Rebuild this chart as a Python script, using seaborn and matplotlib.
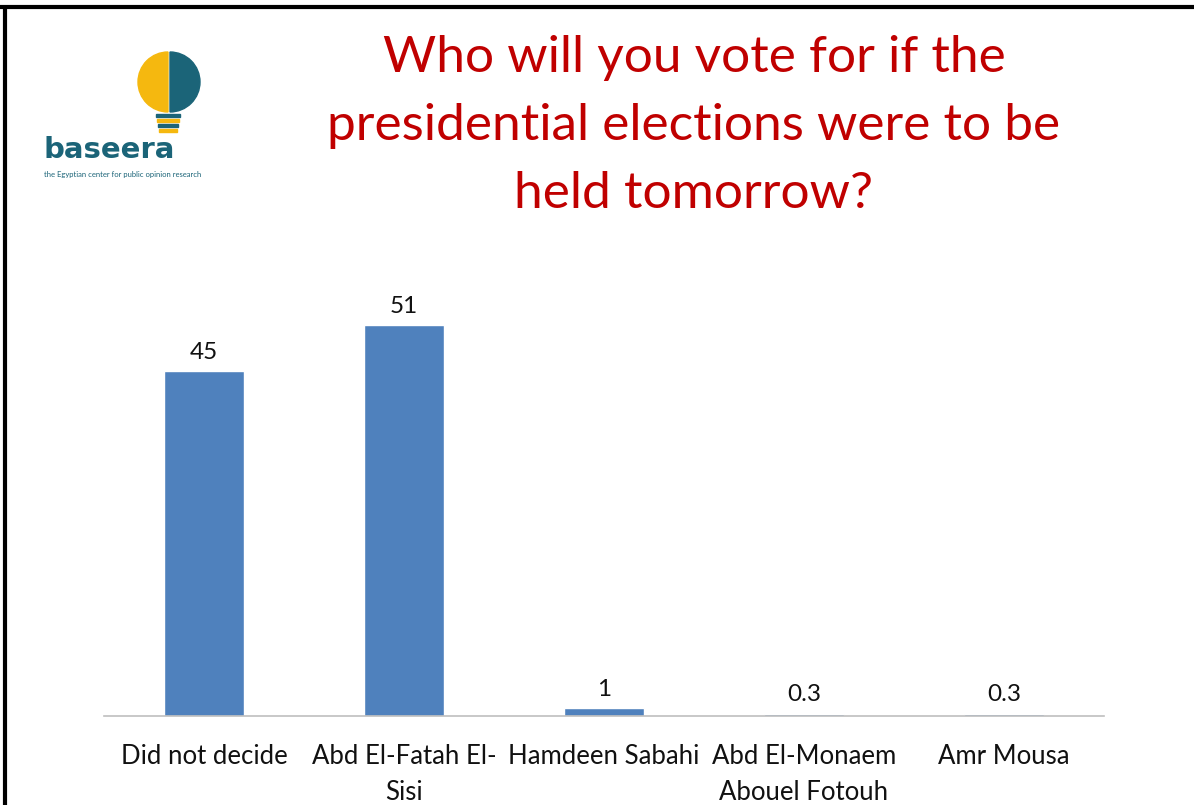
import matplotlib
matplotlib.use('Agg')
import matplotlib.pyplot as plt
import seaborn as sns
import pandas as pd
from matplotlib.patches import Wedge, Rectangle

# dados do gráfico
candidates = ['Did not decide', 'Abd El-Fatah El-\nSisi', 'Hamdeen Sabahi',
              'Abd El-Monaem\nAbouel Fotouh', 'Amr Mousa']
votes = [45, 51, 1, 0.3, 0.3]
value_labels = ['45', '51', '1', '0.3', '0.3']
title_lines = ['Who will you vote for if the',
               'presidential elections were to be',
               'held tomorrow?']

sns.set_style('white')
plt.rcParams['font.family'] = ['Lato', 'DejaVu Sans']

df = pd.DataFrame({'Candidate': candidates, 'Votes': votes})

fig = plt.figure(figsize=(11.94, 8.05), dpi=100)
ax = fig.add_axes([104 / 1194, 89 / 805, 1000 / 1194, 460 / 805])

sns.barplot(data=df, x='Candidate', y='Votes', color='#4F81BD', width=0.4,
            saturation=1, ax=ax)
ax.set_ylim(0, 60)
ax.set_xlim(-0.5, len(candidates) - 0.5)
ax.set_xlabel('')
ax.set_ylabel('')
ax.set_yticks([])
ax.tick_params(axis='x', length=0, pad=20, labelsize=18.5, labelcolor='#111111')
for lab in ax.get_xticklabels():
    lab.set_linespacing(1.55)
for side in ['top', 'left', 'right']:
    ax.spines[side].set_visible(False)
ax.spines['bottom'].set_color('#BFBFBF')
ax.spines['bottom'].set_linewidth(1.2)

for i, (v, t) in enumerate(zip(votes, value_labels)):
    ax.annotate(t, (i, v), xytext=(0, 6), textcoords='offset points',
                ha='center', va='bottom', fontsize=17.5, color='#111111')

# título
fig.text(694 / 1194, 1 - 126 / 805, '\n'.join(title_lines), ha='center', va='center',
         fontsize=37, color='#C00000', linespacing=1.6)

# logotipo aproximado
lax = fig.add_axes([0, 0, 1, 1], zorder=-1)
lax.set_xlim(0, 1194)
lax.set_ylim(805, 0)
lax.axis('off')
lax.add_patch(Wedge((168, 82), 30, 90, 270, color='#F5B80F'))
lax.add_patch(Wedge((170, 82), 30, -90, 90, color='#1B6478'))
for k in range(4):
    lax.add_patch(Rectangle((156 + k, 114 + k * 5), 24 - 2 * k, 3, color='#F5B80F' if k % 2 else '#1B6478'))
lax.text(44, 150, 'baseera', fontsize=21, color='#1B6478', fontweight='bold',
         ha='left', va='center', family=['DejaVu Sans'])
lax.text(44, 175, 'the Egyptian center for public opinion research', fontsize=5.5,
         color='#1B6478', ha='left', va='center')

# moldura
lax.plot([0, 1194], [7, 7], color='black', lw=3)
lax.plot([5, 5], [7, 805], color='black', lw=3)

fig.savefig('out.png', dpi=100)
